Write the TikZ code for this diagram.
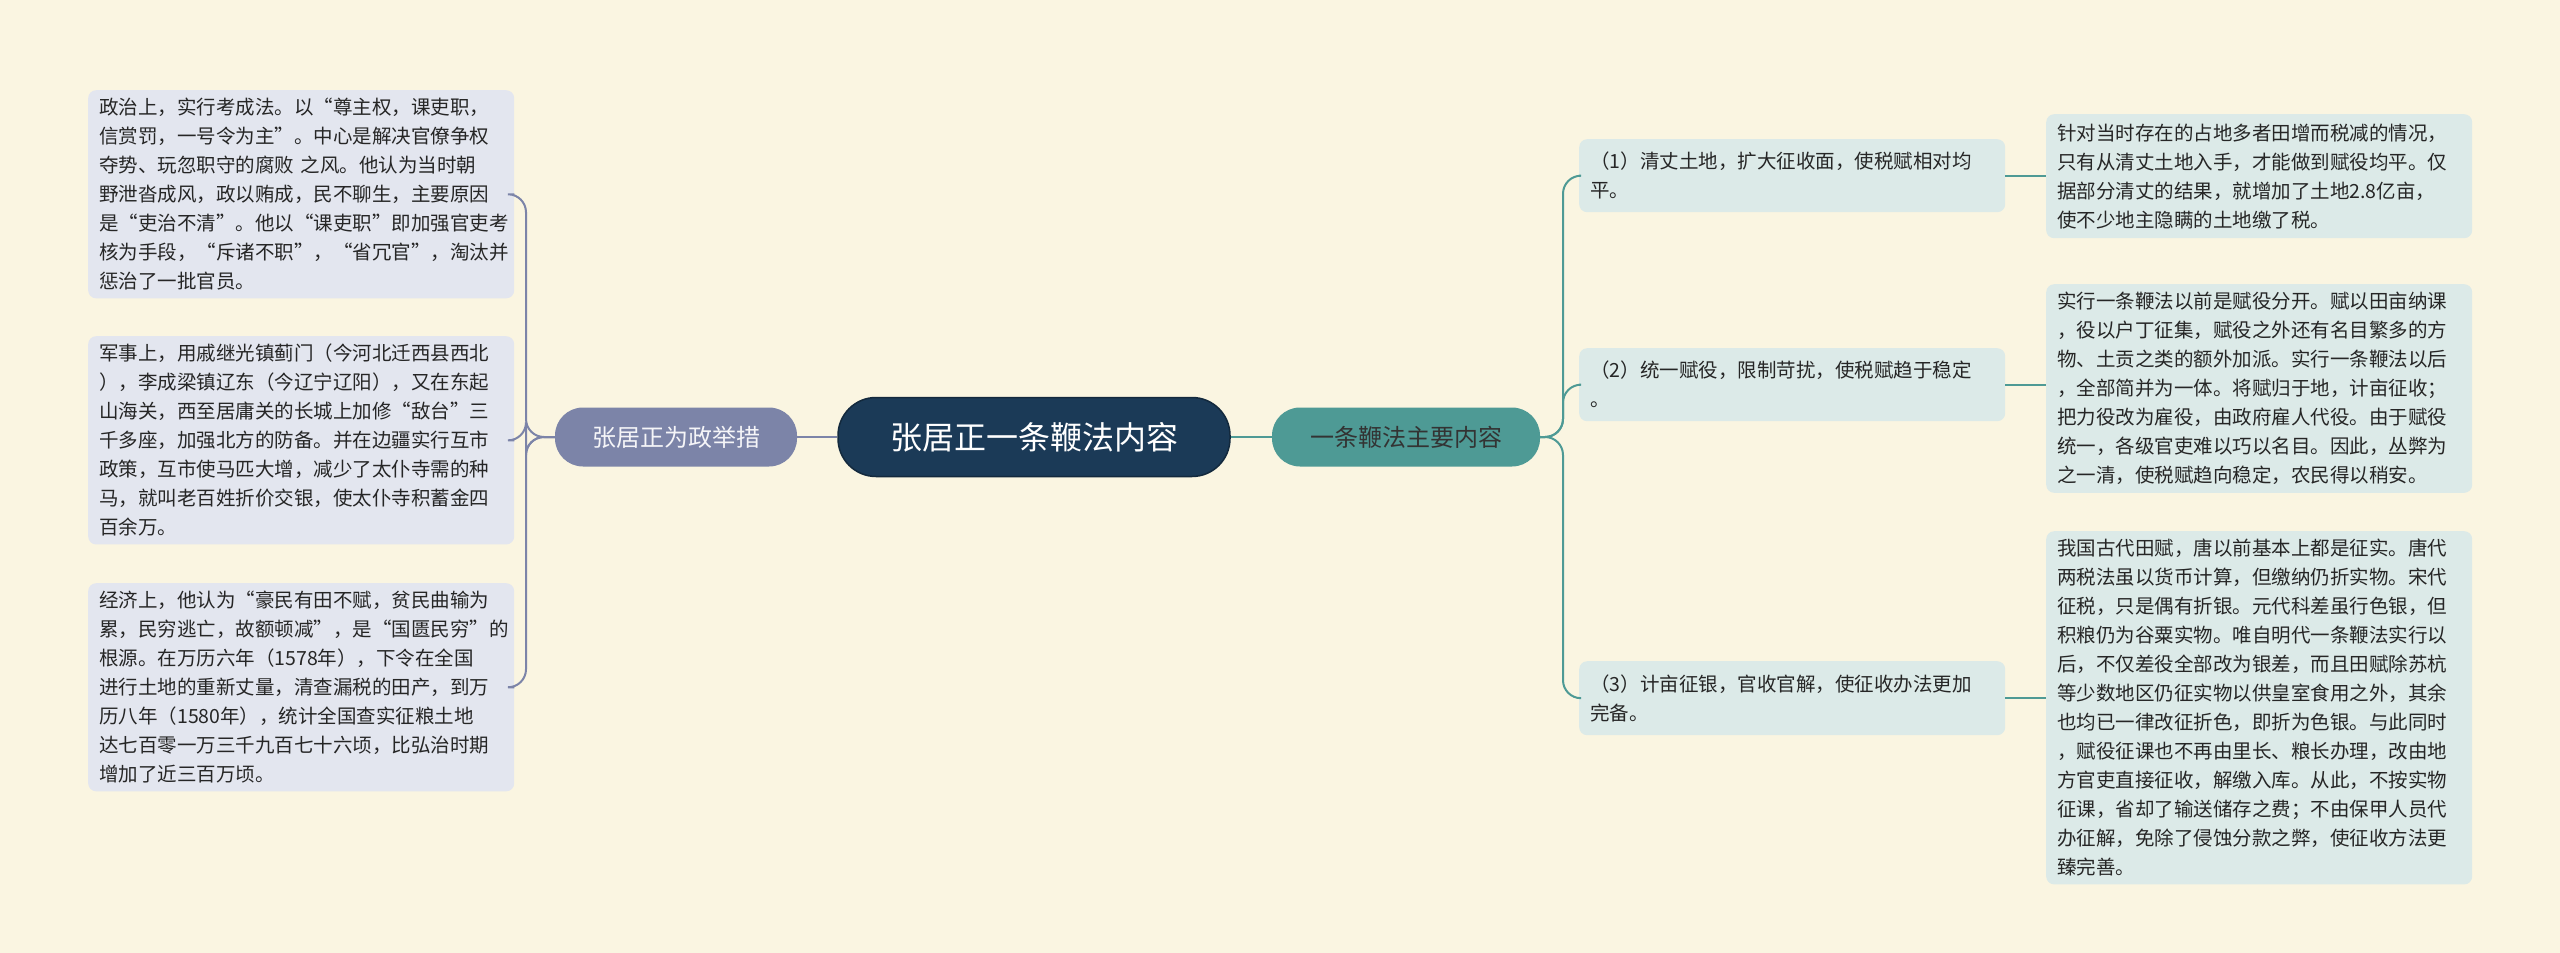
\documentclass[tikz,border=0pt]{standalone}
\usepackage{fontspec}
\setmainfont{Noto Sans CJK SC}
\usepackage{xcolor}
\usetikzlibrary{positioning}
\definecolor{bgcream}{HTML}{FAF5E1}
\definecolor{rootblue}{HTML}{1B3A57}
\definecolor{leftgray}{HTML}{7C84A8}
\definecolor{rightteal}{HTML}{4E9A95}
\definecolor{leftleaf}{HTML}{E3E6EF}
\definecolor{rightleaf}{HTML}{DCEAE8}
\tikzset{
  leafL/.style={fill=leftleaf,rounded corners=8pt,anchor=north west,align=left,
    inner xsep=11pt,inner ysep=8pt,font=\fontsize{19.5}{29}\selectfont,text=black!85},
  leafR/.style={leafL,fill=rightleaf},
  branch/.style={rounded corners=28pt,minimum height=59pt,inner xsep=18pt,
    font=\fontsize{24}{28}\selectfont},
  linkL/.style={leftgray,line width=2pt,rounded corners=18pt},
  linkR/.style={rightteal,line width=2pt,rounded corners=18pt}
}
\begin{document}
\begin{tikzpicture}[x=1pt,y=-1pt]
\fill[bgcream] (0,0) rectangle (2560,953);
\useasboundingbox (0,0) rectangle (2560,953);

%root
\node[fill=rootblue,draw=rootblue!70!black,line width=1.5pt,rounded corners=38pt,
  minimum width=392pt,minimum height=79pt,text=white,font=\fontsize{32}{36}\selectfont]
  (root) at (1034,437) {张居正一条鞭法内容};

%branches
\node[branch,fill=leftgray,text=white!92!leftgray,minimum width=242pt] (meas) at (676,437) {张居正为政举措};
\node[branch,fill=rightteal,text=black!80,minimum width=268pt] (main) at (1406,437) {一条鞭法主要内容};
\draw[leftgray,line width=2pt] (root.west) -- (meas.east);
\draw[rightteal,line width=2pt] (root.east) -- (main.east-|main.west);

%left leaves
\node[leafL,text width=404pt,minimum height=201pt] (pol) at (88,90) {政治上，实行考成法。以“尊主权，课吏职，\\信赏罚，一号令为主”。中心是解决官僚争权\\夺势、玩忽职守的腐败 之风。他认为当时朝\\野泄沓成风，政以贿成，民不聊生，主要原因\\是“吏治不清”。他以“课吏职”即加强官吏考\\核为手段，“斥诸不职”，“省冗官”，淘汰并\\惩治了一批官员。};
\node[leafL,text width=404pt,minimum height=203pt] (mil) at (88,336) {军事上，用戚继光镇蓟门（今河北迁西县西北\\），李成梁镇辽东（今辽宁辽阳），又在东起\\山海关，西至居庸关的长城上加修“敌台”三\\千多座，加强北方的防备。并在边疆实行互市\\政策，互市使马匹大增，减少了太仆寺需的种\\马，就叫老百姓折价交银，使太仆寺积蓄金四\\百余万。};
\node[leafL,text width=404pt,minimum height=203pt] (eco) at (88,583) {经济上，他认为“豪民有田不赋，贫民曲输为\\累，民穷逃亡，故额顿减”，是“国匮民穷”的\\根源。在万历六年（1578年），下令在全国\\进行土地的重新丈量，清查漏税的田产，到万\\历八年（1580年），统计全国查实征粮土地\\达七百零一万三千九百七十六顷，比弘治时期\\增加了近三百万顷。};
\foreach \n in {pol,mil,eco}
  \draw[linkL] (meas.west) -- (526,437) |- (\n.east);

%right middle
\node[leafR,text width=404pt,minimum height=73pt] (p1) at (1579,139) {（1）清丈土地，扩大征收面，使税赋相对均\\平。};
\node[leafR,text width=404pt,minimum height=73pt] (p2) at (1579,348) {（2）统一赋役，限制苛扰，使税赋趋于稳定\\。};
\node[leafR,text width=404pt,minimum height=74pt] (p3) at (1579,661) {（3）计亩征银，官收官解，使征收办法更加\\完备。};
\foreach \n in {p1,p2,p3}
  \draw[linkR] (main.east) -- (1563,437) |- (\n.west);

%right details
\node[leafR,text width=404pt,minimum height=124pt] (d1) at (2046,114) {针对当时存在的占地多者田增而税减的情况，\\只有从清丈土地入手，才能做到赋役均平。仅\\据部分清丈的结果，就增加了土地2.8亿亩，\\使不少地主隐瞒的土地缴了税。};
\node[leafR,text width=404pt,minimum height=201pt] (d2) at (2046,284) {实行一条鞭法以前是赋役分开。赋以田亩纳课\\，役以户丁征集，赋役之外还有名目繁多的方\\物、土贡之类的额外加派。实行一条鞭法以后\\，全部简并为一体。将赋归于地，计亩征收；\\把力役改为雇役，由政府雇人代役。由于赋役\\统一，各级官吏难以巧以名目。因此，丛弊为\\之一清，使税赋趋向稳定，农民得以稍安。};
\node[leafR,text width=404pt,minimum height=331pt] (d3) at (2046,531) {我国古代田赋，唐以前基本上都是征实。唐代\\两税法虽以货币计算，但缴纳仍折实物。宋代\\征税，只是偶有折银。元代科差虽行色银，但\\积粮仍为谷粟实物。唯自明代一条鞭法实行以\\后，不仅差役全部改为银差，而且田赋除苏杭\\等少数地区仍征实物以供皇室食用之外，其余\\也均已一律改征折色，即折为色银。与此同时\\，赋役征课也不再由里长、粮长办理，改由地\\方官吏直接征收，解缴入库。从此，不按实物\\征课，省却了输送储存之费；不由保甲人员代\\办征解，免除了侵蚀分款之弊，使征收方法更\\臻完善。};
\draw[linkR] (p1.east) -- (p1.east-|d1.west);
\draw[linkR] (p2.east) -- (p2.east-|d2.west);
\draw[linkR] (p3.east) -- (p3.east-|d3.west);
\end{tikzpicture}
\end{document}
